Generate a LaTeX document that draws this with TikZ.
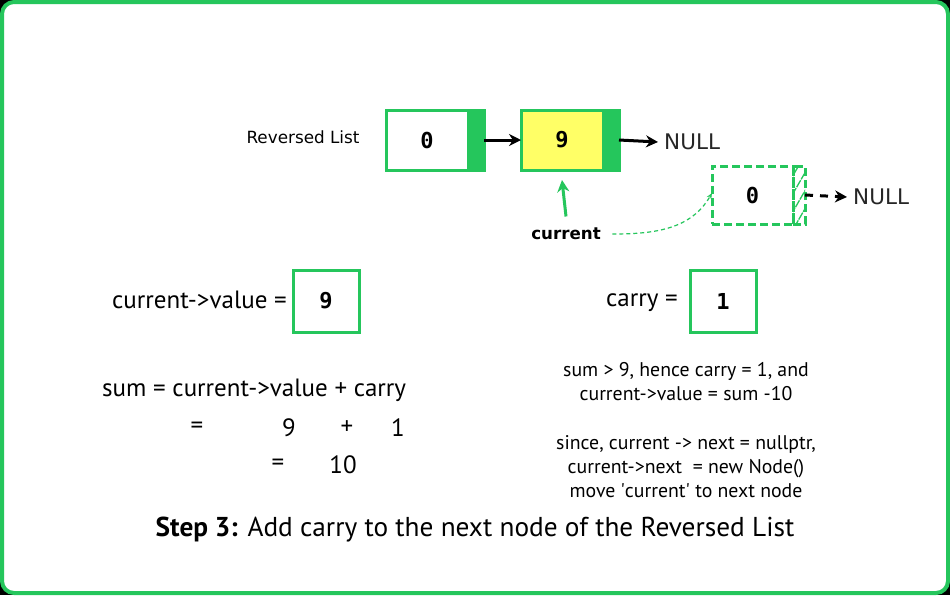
\documentclass[tikz,border=0pt]{standalone}
\usepackage{fontspec}
\setmainfont{PT Sans}
\newfontfamily\labelfont{DejaVu Sans}
\newfontfamily\digitfont{DejaVu Sans Mono}
\usetikzlibrary{positioning,arrows.meta,patterns.meta}
\definecolor{gfgreen}{RGB}{37,198,92}
\definecolor{nodeyellow}{RGB}{255,255,102}
\tikzset{
  valbox/.style ={draw=gfgreen, line width=3pt, minimum width=82pt, minimum height=60pt,
                  inner sep=0pt, outer sep=0pt, font=\digitfont\bfseries\fontsize{22}{22}\selectfont},
  ptrbox/.style ={draw=gfgreen, fill=gfgreen, line width=3pt, minimum width=16pt,
                  minimum height=60pt, inner sep=0pt, outer sep=0pt},
  newbox/.style ={valbox, dash pattern=on 8pt off 4pt, minimum width=81pt, minimum height=58pt},
  newptr/.style ={draw=gfgreen, line width=3pt, dash pattern=on 8pt off 4pt, minimum width=12pt,
                  minimum height=58pt, inner sep=0pt, outer sep=0pt,
                  pattern={Lines[angle=60,distance=9pt,line width=1.3pt]}, pattern color=gfgreen},
  numbox/.style ={draw=gfgreen, line width=3pt, minimum width=66pt, minimum height=62pt,
                  inner sep=0pt, font=\digitfont\bfseries\fontsize{22}{22}\selectfont},
  nulltxt/.style={font=\labelfont\fontsize{21.5}{21.5}\selectfont, text=black!85, anchor=west, inner sep=0pt},
  big/.style    ={font=\fontsize{25}{25}\selectfont, inner sep=0pt},
  mid/.style    ={font=\fontsize{19.8}{24}\selectfont, inner sep=0pt, align=center},
  arrow/.style  ={-{Stealth[length=12pt,width=12pt]}, line width=3pt},
  garrow/.style ={arrow, draw=gfgreen}
}

\begin{document}
\begin{tikzpicture}[x=1pt, y=-1pt]
    \useasboundingbox (0,0) rectangle (950,595);
    % frame
    \fill[black] (0,0) rectangle (950,595);
    \draw[gfgreen, line width=4pt, fill=white, rounded corners=12pt] (2,2) rectangle (948,593);
    % reversed list
    \node[font=\labelfont\fontsize{16.8}{16.8}\selectfont] (rl) at (303,137) {Reversed List};
    \node[valbox] (n1) at (427,140) {0};
    \node[ptrbox, right=0pt of n1] (p1) {};
    \node[valbox, fill=nodeyellow, right=37pt of p1] (n2) {9};
    \node[ptrbox, right=0pt of n2] (p2) {};
    \node[nulltxt] (null1) at (664,142) {NULL};
    \draw[arrow] (p1.east) -- (n2.west);
    \draw[arrow] (p2.east) -- ([xshift=-6pt]null1.west);
    % new node
    \node[newbox, fill=white] (n3) at (752.5,195) {0};
    \node[newptr, right=0pt of n3] (p3) {};
    \node[nulltxt] (null2) at (853,197) {NULL};
    \draw[arrow, dash pattern=on 8pt off 7pt] (p3.east) -- ([xshift=-6pt]null2.west);
    % current pointer
    \node[font=\labelfont\bfseries\fontsize{16.7}{16.7}\selectfont] (cur) at (566,234) {current};
    \draw[garrow] ([yshift=8pt]cur.north) -- ([yshift=-10pt]n2.south);
    \draw[gfgreen, line width=1.2pt, dash pattern=on 4pt off 3pt, -{Stealth[length=6pt,width=5pt]}]
      ([xshift=8pt]cur.east) to[out=0, in=240] ([yshift=2pt]n3.west);
    % values
    \node[big, anchor=east] (cvl) at (287,300) {current->value =};
    \node[numbox] (cv) at (326,301) {9};
    \node[big, anchor=east] (cyl) at (678,303) {carry =};
    \node[numbox] (cy) at (723,301) {1};
    % sum
    \node[big, anchor=west] (sum) at (102,390) {sum = current->value + carry};
    \node[big] (eq1) at (197,428) {=};
    \node[big] (a1) at (289,428) {9};
    \node[big] (pl) at (347,428) {+};
    \node[big] (b1) at (398,428) {1};
    \node[big] (eq2) at (278,465) {=};
    \node[big] (res) at (343,465) {10};
    % notes
    \node[mid] (note1) at (686,382) {sum > 9, hence carry = 1, and\\current->value = sum -10};
    \node[mid] (note2) at (686,467) {since, current -> next = nullptr,\\current->next \ = new Node()\\move \textquotesingle current\textquotesingle{} to next node};
    \node[font=\fontsize{27.3}{27.3}\selectfont, inner sep=0pt] (cap) at (475,530)
      {\textbf{Step 3:} Add carry to the next node of the Reversed List};
\end{tikzpicture}
\end{document}
